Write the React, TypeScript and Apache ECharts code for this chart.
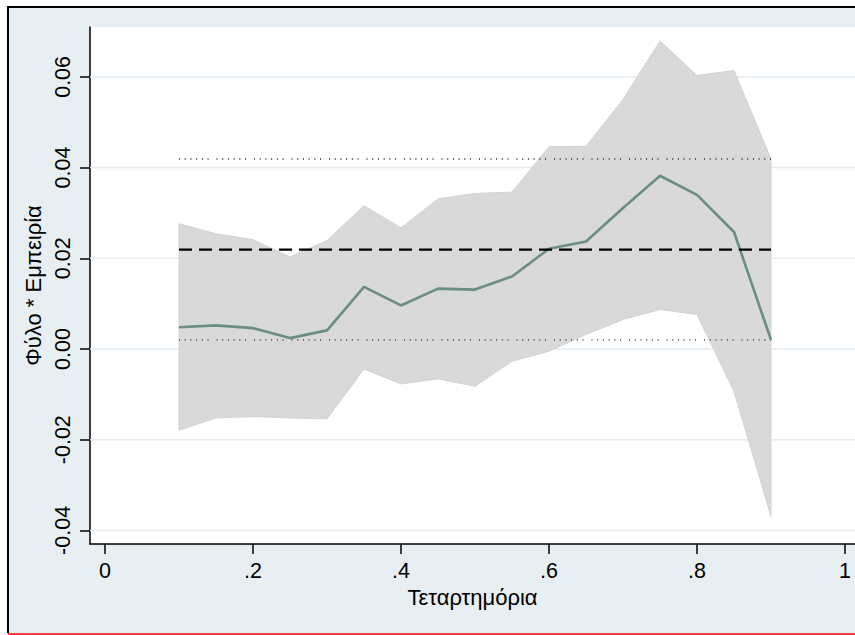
import React, { useEffect, useRef } from "react";
import * as echarts from "echarts";

// Quantile grid and the interaction coefficient with its 95% band
const quantiles = [0.1, 0.15, 0.2, 0.25, 0.3, 0.35, 0.4, 0.45, 0.5, 0.55, 0.6, 0.65, 0.7, 0.75, 0.8, 0.85, 0.9];
const estimate = [0.0048, 0.0052, 0.0046, 0.0024, 0.0041, 0.0137, 0.0096, 0.0133, 0.0131, 0.016, 0.0221, 0.0237, 0.0311, 0.0382, 0.034, 0.0258, 0.002];
const ciUpper = [0.0276, 0.0254, 0.0241, 0.0203, 0.0239, 0.0316, 0.0267, 0.0331, 0.0343, 0.0346, 0.0446, 0.0447, 0.055, 0.0679, 0.0603, 0.0614, 0.0419];
const ciLower = [-0.0179, -0.0152, -0.0149, -0.0152, -0.0154, -0.0044, -0.0077, -0.0066, -0.0082, -0.0027, -0.0005, 0.0032, 0.0065, 0.0087, 0.0076, -0.0094, -0.0369];

// OLS reference: point estimate and its confidence limits
const olsEstimate = 0.0219;
const olsUpper = 0.0419;
const olsLower = 0.002;

const xTicks = [0, 0.2, 0.4, 0.6, 0.8, 1];
const xTickLabels = ["0", ".2", ".4", ".6", ".8", "1"];
const yTicks = [-0.04, -0.02, 0, 0.02, 0.04, 0.06];

const FONT = "'Liberation Sans', Arial, sans-serif";
const X_MIN = -0.0203;
const X_MAX = 1.0135;
const xFrom = quantiles[0];
const xTo = quantiles[quantiles.length - 1];

export default function App() {
  const ref = useRef<HTMLDivElement>(null);

  useEffect(() => {
    if (!ref.current) return;
    const chart = echarts.init(ref.current, undefined, { renderer: "svg" });

    const flat = (v: number) => [[xFrom, v], [xTo, v]];
    const dotted = [1, 4.7, 1, 4.7, 1, 4.7, 1, 4.7, 1, 4.7, 1, 8];

    const option: any = {
      animation: false,
      graphic: [
        { type: "rect", z: -100, shape: { x: 9, y: 8, width: 846, height: 625 }, style: { fill: "#e8eff2" } },
        { type: "line", z: 100, shape: { x1: 7, y1: 7, x2: 855, y2: 7 }, style: { stroke: "#000", lineWidth: 2 } },
        { type: "line", z: 100, shape: { x1: 8, y1: 6, x2: 8, y2: 633 }, style: { stroke: "#000", lineWidth: 2 } },
        { type: "line", z: 100, shape: { x1: 8, y1: 634, x2: 855, y2: 634 }, style: { stroke: "#ff3d3d", lineWidth: 2 } },
      ],
      grid: {
        left: 90,
        right: 0,
        top: 27,
        bottom: 91,
        show: true,
        backgroundColor: "#ffffff",
        borderWidth: 0,
      },
      xAxis: {
        type: "value",
        min: X_MIN,
        max: X_MAX,
        axisLine: { show: true, onZero: false, lineStyle: { color: "#000", width: 1.5 } },
        axisTick: { show: true, length: 10, customValues: xTicks, lineStyle: { color: "#000", width: 1.5 } },
        axisLabel: {
          customValues: xTicks,
          formatter: (v: number) => xTickLabels[xTicks.findIndex((t) => Math.abs(t - v) < 1e-9)] ?? "",
          fontSize: 21.5,
          fontFamily: FONT,
          color: "#000",
          margin: 16,
        },
        splitLine: { show: false },
        name: "Τεταρτημόρια",
        nameLocation: "middle",
        nameGap: 34,
        nameTextStyle: { fontSize: 22, fontFamily: FONT, color: "#000" },
      },
      yAxis: {
        type: "value",
        min: -0.043,
        max: 0.071,
        axisLine: { show: true, onZero: false, lineStyle: { color: "#000", width: 1.5 } },
        axisTick: { show: true, length: 10, customValues: yTicks, lineStyle: { color: "#000", width: 1.5 } },
        axisLabel: {
          customValues: yTicks,
          rotate: 90,
          formatter: (v: number) => v.toFixed(2),
          fontSize: 21.5,
          fontFamily: FONT,
          color: "#000",
          margin: 16,
        },
        splitLine: { show: false },
        name: "Φύλο * Εμπειρία",
        nameLocation: "middle",
        nameRotate: 90,
        nameGap: 42,
        nameTextStyle: { fontSize: 22, fontFamily: FONT, color: "#000" },
      },
      series: [
        // horizontal grid lines at each y tick
        ...yTicks.map((v) => ({
          type: "line",
          z: 1,
          silent: true,
          showSymbol: false,
          data: [[X_MIN, v], [X_MAX, v]],
          lineStyle: { color: "#e3ecf0", width: 1.5 },
        })),
        {
          type: "custom",
          z: 2,
          silent: true,
          data: [0],
          renderItem: (_params: any, api: any) => {
            const top = quantiles.map((x, i) => api.coord([x, ciUpper[i]]));
            const bottom = quantiles.map((x, i) => api.coord([x, ciLower[i]])).reverse();
            return {
              type: "polygon",
              shape: { points: top.concat(bottom) },
              style: { fill: "#d9d9d9", stroke: "#d2d2d2", lineWidth: 1 },
            };
          },
        },
        {
          type: "line",
          z: 3,
          showSymbol: false,
          data: flat(olsUpper),
          lineStyle: { color: "#222", width: 1.4, type: dotted },
        },
        {
          type: "line",
          z: 3,
          showSymbol: false,
          data: flat(olsLower),
          lineStyle: { color: "#222", width: 1.4, type: dotted },
        },
        {
          type: "line",
          z: 4,
          showSymbol: false,
          data: quantiles.map((x, i) => [x, estimate[i]]),
          lineStyle: { color: "#6a8e7f", width: 2.6 },
        },
        {
          type: "line",
          z: 5,
          showSymbol: false,
          data: flat(olsEstimate),
          lineStyle: { color: "#000", width: 2.4, type: [13, 7] },
        },
      ],
    };

    chart.setOption(option);
    return () => chart.dispose();
  }, []);

  return (
    <div
      ref={ref}
      style={{ position: "fixed", left: 0, top: 0, width: 855, height: 635, background: "#fff" }}
    />
  );
}
